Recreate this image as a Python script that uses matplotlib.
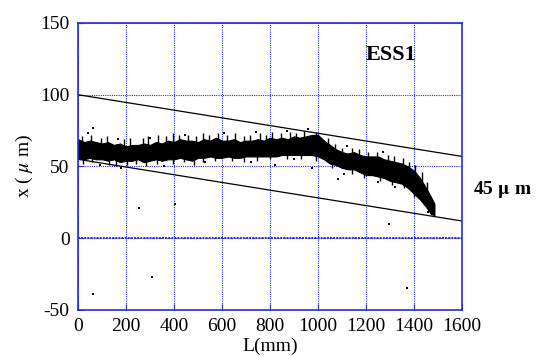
import matplotlib
matplotlib.use("Agg")
import numpy as np
import matplotlib.pyplot as plt

# dense measurement band: position along L (mm), upper and lower envelope of x (um)
band_L = [0, 25, 50, 75, 100, 125, 150, 175, 200, 225, 250, 275, 300, 325, 350, 375,
          400, 425, 450, 475, 500, 525, 550, 575, 600, 625, 650, 675, 700, 725, 750, 775,
          800, 825, 850, 875, 900, 925, 950, 975, 1000, 1025, 1050, 1075, 1100, 1125, 1150,
          1175, 1200, 1225, 1250, 1275, 1300, 1325, 1350, 1375, 1400, 1425, 1450, 1470, 1485]
band_hi = [69, 67, 68, 67, 66, 67, 65, 66, 64, 65, 65, 66, 65, 67, 66, 68,
           67, 69, 68, 68, 67, 69, 68, 70, 68, 68, 69, 67, 68, 68, 69, 68,
           70, 69, 70, 69, 71, 70, 71, 72, 72, 68, 65, 62, 60, 59, 60,
           58, 57, 57, 57, 55, 54, 53, 52, 50, 47, 42, 35, 29, 24]
band_lo = [56, 55, 56, 55, 55, 54, 55, 53, 54, 54, 55, 53, 54, 55, 54, 55,
           55, 56, 55, 54, 56, 56, 57, 56, 56, 57, 56, 56, 57, 57, 57, 57,
           57, 57, 58, 58, 58, 58, 58, 58, 57, 55, 52, 51, 49, 48, 48,
           46, 44, 44, 43, 42, 40, 39, 38, 35, 31, 27, 22, 17, 16]

# spikes sticking out of the band (top values / bottom values)
spk_up_L = [15, 55, 95, 120, 190, 215, 270, 290, 335, 365, 395, 420, 460, 490, 520, 545,
            585, 620, 655, 690, 715, 760, 785, 810, 845, 885, 910, 940, 990, 1040, 1070,
            1100, 1140, 1170, 1210, 1245, 1290, 1315, 1355, 1380, 1405, 1435, 1455]
spk_up_x = [71, 72, 70, 71, 69, 70, 70, 71, 72, 71, 73, 72, 72, 71, 73, 72,
            73, 72, 73, 71, 72, 73, 72, 74, 73, 74, 73, 75, 74, 70, 66,
            63, 63, 62, 60, 60, 58, 57, 56, 53, 51, 46, 39]
spk_dn_L = [20, 60, 130, 160, 205, 240, 285, 330, 395, 440, 485, 520, 570, 640, 690, 745,
            800, 870, 930, 990, 1060, 1140, 1190, 1260, 1310, 1360, 1400, 1440]
spk_dn_x = [52, 53, 51, 50, 51, 52, 50, 52, 52, 53, 51, 53, 54, 54, 53, 54,
            55, 55, 55, 54, 49, 45, 42, 40, 37, 35, 29, 23]

# isolated points and outliers
pts_L = [40, 165, 300, 445, 610, 740, 870, 960, 1120, 1270,
         90, 180, 360, 530, 720, 900, 1110, 1250, 1460,
         64, 61, 253, 405, 310, 1294, 1369, 1084, 821, 974, 1321]
pts_x = [73, 69, 70, 72, 73, 74, 75, 76, 64, 60,
         51, 49, 50, 53, 53, 55, 45, 39, 18,
         77, -39, 21, 24, -27, 10, -35, 41, 51, 49, 36]

# tolerance lines (45 um apart)
line_L = [0, 1600]
upper_x = [100, 57]
lower_x = [55, 12]

blue = "#2b2bd9"
plt.rcParams["font.family"] = ["Liberation Serif", "DejaVu Serif"]
plt.rcParams["mathtext.fontset"] = "stix"
plt.rcParams["axes.unicode_minus"] = False

fig = plt.figure(figsize=(5.36, 3.57), dpi=100)
ax = fig.add_axes([0.1455, 0.1317, 0.7165, 0.804])

ax.fill_between(band_L, band_lo, band_hi, color="black", lw=0.8, edgecolor="black")
ax.vlines(spk_up_L, np.interp(spk_up_L, band_L, band_lo), spk_up_x, color="black", lw=1.0)
ax.vlines(spk_dn_L, spk_dn_x, np.interp(spk_dn_L, band_L, band_hi), color="black", lw=1.0)
ax.scatter(pts_L, pts_x, s=2.5, marker="s", color="black", lw=0)
ax.plot(line_L, upper_x, color="black", lw=0.9)
ax.plot(line_L, lower_x, color="black", lw=0.9)

ax.set_xlim(0, 1600)
ax.set_ylim(-50, 150)
ax.set_xticks(range(0, 1601, 200))
ax.set_yticks([-50, 0, 50, 100, 150])
ax.grid(True, color=blue, ls=(0, (1, 1)), lw=0.8)
ax.axhline(0, color=blue, ls=(0, (1, 0.6)), lw=1.4, zorder=0.5)
ax.set_axisbelow(True)
for s in ax.spines.values():
    s.set_color(blue)
    s.set_linewidth(1.2)
ax.tick_params(direction="in", length=4, color=blue, labelsize=14, pad=6)

ax.set_xlabel("L(mm)", fontsize=14, labelpad=2)
ax.set_ylabel(r"x ( $\mu$ m)", fontsize=14, labelpad=4)
ax.text(1304, 128, "ESS1", fontsize=16, fontweight="bold", ha="center", va="center")
fig.text(0.937, 0.468, r"45 $\mathbf{\mu}$ m", fontsize=14, fontweight="bold",
         ha="center", va="center")

fig.savefig("out.png", dpi=100)
